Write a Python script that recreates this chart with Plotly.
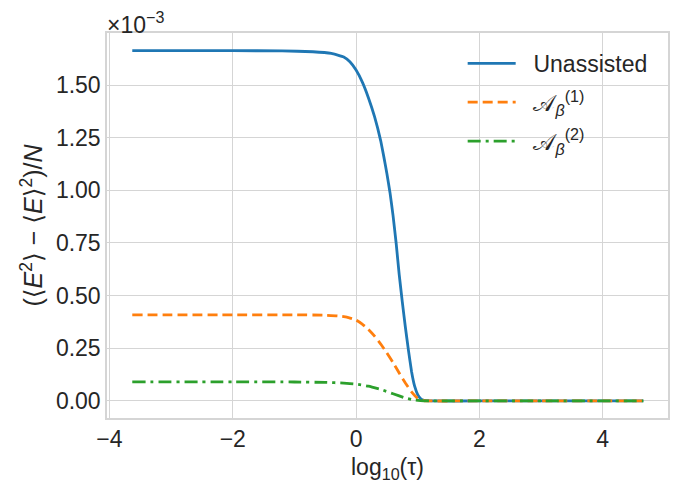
import plotly.graph_objects as go

# log10(tau) grid points and variance values (in units of 1e-3)
x_unassisted = [-3.63, -2.0, -1.2, -0.7, -0.4, -0.2, -0.1, 0.0, 0.1, 0.2, 0.3, 0.4, 0.45, 0.5,
                0.55, 0.6, 0.65, 0.7, 0.75, 0.8, 0.85, 0.9, 0.95, 1.0, 1.05, 1.1, 1.2, 2.0, 3.0, 4.66]
y_unassisted = [1.663, 1.663, 1.662, 1.658, 1.650, 1.633, 1.610, 1.571, 1.515, 1.44, 1.35, 1.235, 1.16, 1.08,
                0.99, 0.88, 0.75, 0.60, 0.47, 0.35, 0.24, 0.14, 0.07, 0.03, 0.01, 0.003, 0.0, 0.0, 0.0, 0.0]

x_a1 = [-3.63, -2.0, -1.0, -0.5, -0.3, -0.15, 0.0, 0.1, 0.2, 0.3, 0.4, 0.5, 0.6, 0.7, 0.8,
        0.9, 1.0, 1.1, 1.2, 2.0, 3.0, 4.66]
y_a1 = [0.409, 0.409, 0.409, 0.407, 0.404, 0.398, 0.384, 0.365, 0.340, 0.308, 0.270, 0.228, 0.182, 0.133, 0.085,
        0.043, 0.013, 0.002, 0.0, 0.0, 0.0, 0.0]

x_a2 = [-3.63, -2.0, -1.0, -0.5, -0.2, 0.0, 0.2, 0.4, 0.6, 0.8, 0.95, 1.1, 1.2, 2.0, 3.0, 4.66]
y_a2 = [0.0905, 0.0905, 0.090, 0.088, 0.085, 0.080, 0.070, 0.055, 0.034, 0.014, 0.004, 0.0005, 0.0, 0.0, 0.0, 0.0]

x_ticks = [-4, -2, 0, 2, 4]
y_ticks = [0.0, 0.25, 0.5, 0.75, 1.0, 1.25, 1.5]

names = ["\u00a0\u00a0Unassisted",
         "\u00a0\u00a0𝒜<sub><i>β</i></sub><sup>(1)</sup>",
         "\u00a0\u00a0𝒜<sub><i>β</i></sub><sup>(2)</sup>"]

FONT = "Liberation Sans, Arial, DejaVu Sans, sans-serif"
GRID = "#d5d5d5"
FS = 23

fig = go.Figure()
fig.add_trace(go.Scatter(x=x_unassisted, y=y_unassisted, mode="lines", name=names[0], legendgroup="g0",
                         line=dict(color="#1f77b4", width=2.8, shape="spline", smoothing=0.3)))
fig.add_trace(go.Scatter(x=x_a1, y=y_a1, mode="lines", name=names[1], legendgroup="g1",
                         line=dict(color="#ff7f0e", width=2.8, dash="10px,5px", shape="spline", smoothing=0.3)))
fig.add_trace(go.Scatter(x=x_a2, y=y_a2, mode="lines", name=names[2], legendgroup="g2",
                         line=dict(color="#2ca02c", width=2.8, dash="13px,5px,3px,5px", shape="spline", smoothing=0.3)))

# page body has an 8px margin: figure is drawn at (8, 8)
fig.update_layout(
    width=671, height=479,
    margin=dict(l=99, r=11, t=25, b=69),
    paper_bgcolor="white", plot_bgcolor="white",
    font=dict(family=FONT, size=FS, color="#262626"),
    showlegend=True,
    legend=dict(x=0.634, y=0.977, xanchor="left", yanchor="top",
                bgcolor="rgba(0,0,0,0)", borderwidth=0, tracegroupgap=6,
                font=dict(size=FS), itemwidth=48),
)
fig.update_xaxes(range=[-4.04, 5.06], tickvals=x_ticks,
                 ticktext=["−4", "−2", "0", "2", "4"], automargin=False,
                 showgrid=True, gridcolor=GRID, gridwidth=1.2,
                 zeroline=False, showline=True, linecolor=GRID, linewidth=1.5, mirror=True,
                 ticks="", tickfont=dict(size=FS),
                 title=dict(text="log<sub>10</sub>(τ)", font=dict(size=FS), standoff=8))
fig.update_yaxes(range=[-0.081, 1.747], tickvals=y_ticks, tickformat=".2f", automargin=False,
                 showgrid=True, gridcolor=GRID, gridwidth=1.2,
                 zeroline=False, showline=True, linecolor=GRID, linewidth=1.5, mirror=True,
                 ticks="", tickfont=dict(size=FS),
                 title=dict(text="(⟨<i>E</i><sup>2</sup>⟩ − ⟨<i>E</i>⟩<sup>2</sup>)/<i>N</i>",
                            font=dict(size=25), standoff=6))
fig.add_annotation(text="×10<sup>−3</sup>", xref="paper", yref="paper", x=0.0, y=1.0,
                   xanchor="left", yanchor="bottom", showarrow=False, yshift=-7, xshift=-2,
                   font=dict(size=FS))

fig.write_html("out.html")
